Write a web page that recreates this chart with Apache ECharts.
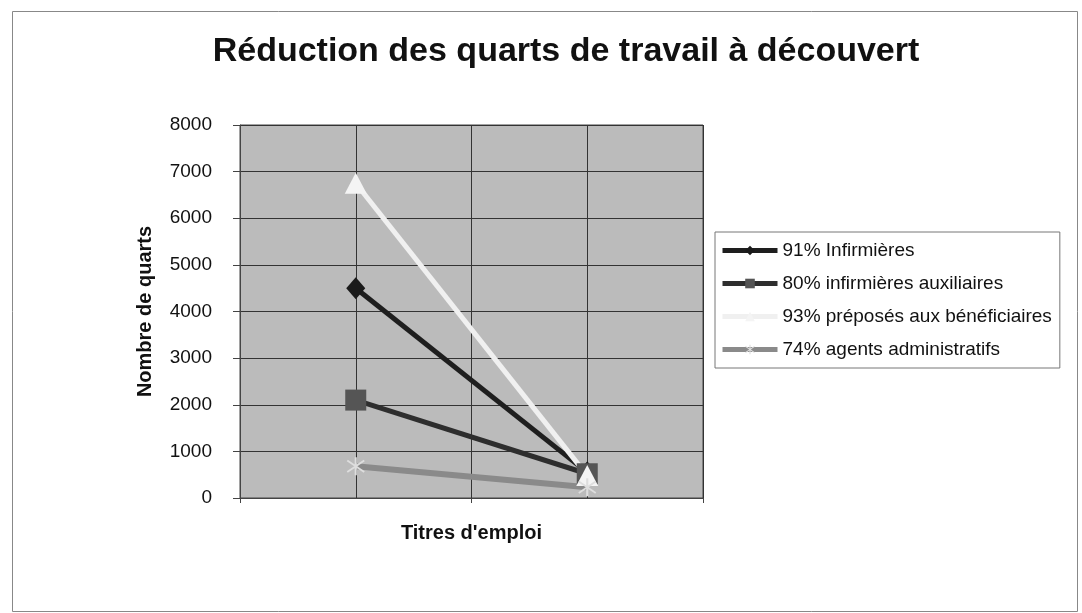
<!DOCTYPE html>
<html>
<head>
<meta charset="utf-8">
<title>Réduction des quarts de travail à découvert</title>
<script src="https://cdn.jsdelivr.net/npm/echarts@6/dist/echarts.min.js"></script>
<style>
	html, body { margin: 0; padding: 0; background: #fff; }
	#chart { width: 1082px; height: 613px; }
</style>
</head>
<body>
<div id="chart"></div>
<script>
// catégories (non affichées sur l'axe)
const categories = ['Avant', 'Après'];
const seriesNames = [
	'91% Infirmières',
	'80% infirmières auxiliaires',
	'93% préposés aux bénéficiaires',
	'74% agents administratifs',
];
const infirmieres = [4500, 550];
const auxiliaires = [2100, 520];
const preposes = [6750, 480];
const agents = [680, 230];
const yTicks = [0, 1000, 2000, 3000, 4000, 5000, 6000, 7000, 8000];

// astérisque pour le marqueur des agents
const starPath = 'path://M9,0L11,0L11,20L9,20Z M1.5,4.5L2.5,2.8L18.5,15.5L17.5,17.2Z M17.5,2.8L18.5,4.5L2.5,17.2L1.5,15.5Z';

const font = '"Liberation Sans", Arial, sans-serif';

const myChart = echarts.init(document.getElementById('chart'));
myChart.setOption({
	backgroundColor: '#fff',
	animation: false,
	title: {
		text: 'Réduction des quarts de travail à découvert',
		left: 561,
		textAlign: 'center',
		top: 30,
		textStyle: { fontFamily: font, fontSize: 34, fontWeight: 'bold', color: '#111' },
	},
	graphic: [
		{
			type: 'rect',
			shape: { x: 12.5, y: 11.5, width: 1065, height: 600 },
			style: { fill: 'none', stroke: '#888', lineWidth: 1 },
			silent: true,
		},
	],
	legend: {
		orient: 'vertical',
		left: 715,
		top: 232,
		backgroundColor: '#fff',
		borderColor: '#777',
		borderWidth: 1,
		padding: [9, 8, 9, 5],
		itemWidth: 55,
		itemHeight: 12,
		itemGap: 14,
		lineStyle: { width: 5 },
		textStyle: { fontFamily: font, fontSize: 19, color: '#111' },
		data: seriesNames,
	},
	grid: {
		left: 240,
		right: 379,
		top: 125,
		bottom: 115,
		show: true,
		backgroundColor: '#bbbbbb',
		borderColor: '#444',
		borderWidth: 1,
	},
	xAxis: [
		{
			type: 'category',
			data: categories,
			boundaryGap: true,
			name: "Titres d'emploi",
			nameLocation: 'middle',
			nameGap: 25,
			nameTextStyle: { fontFamily: font, fontSize: 20, fontWeight: 'bold', color: '#111' },
			axisLine: { lineStyle: { color: '#444', width: 1 } },
			axisTick: { show: true, length: 5, lineStyle: { color: '#444' } },
			axisLabel: { show: false },
			splitLine: { show: false },
		},
		{
			// lignes verticales de la grille
			type: 'value',
			min: 0,
			max: 4,
			interval: 1,
			show: true,
			axisLine: { show: false },
			axisTick: { show: false },
			axisLabel: { show: false },
			splitLine: { show: true, lineStyle: { color: '#333', width: 1 } },
		},
	],
	yAxis: {
		type: 'value',
		min: yTicks[0],
		max: yTicks[yTicks.length - 1],
		interval: 1000,
		name: 'Nombre de quarts',
		nameLocation: 'middle',
		nameRotate: 90,
		nameGap: 85,
		nameTextStyle: { fontFamily: font, fontSize: 20, fontWeight: 'bold', color: '#111' },
		axisLine: { show: true, lineStyle: { color: '#444', width: 1 } },
		axisTick: { show: true, length: 7, lineStyle: { color: '#444' } },
		axisLabel: {
			margin: 28,
			fontFamily: font,
			fontSize: 19,
			color: '#111',
			formatter: (v) => String(v),
		},
		splitLine: { show: true, lineStyle: { color: '#333', width: 1 } },
	},
	series: [
		{
			name: seriesNames[0],
			type: 'line',
			data: infirmieres,
			symbol: 'diamond',
			symbolSize: [19, 22],
			lineStyle: { color: '#1e1e1e', width: 5 },
			itemStyle: { color: '#1a1a1a' },
		},
		{
			name: seriesNames[1],
			type: 'line',
			data: auxiliaires,
			symbol: 'rect',
			symbolSize: 21,
			lineStyle: { color: '#2e2e2e', width: 5 },
			itemStyle: { color: '#555' },
		},
		{
			name: seriesNames[2],
			type: 'line',
			data: preposes,
			symbol: 'triangle',
			symbolSize: [22, 21],
			lineStyle: { color: '#f0f0f0', width: 5 },
			itemStyle: { color: '#f4f4f4' },
		},
		{
			name: seriesNames[3],
			type: 'line',
			data: agents,
			symbol: starPath,
			symbolSize: 18,
			lineStyle: { color: '#8a8a8a', width: 6 },
			itemStyle: { color: '#dedede' },
		},
	],
});
</script>
</body>
</html>
